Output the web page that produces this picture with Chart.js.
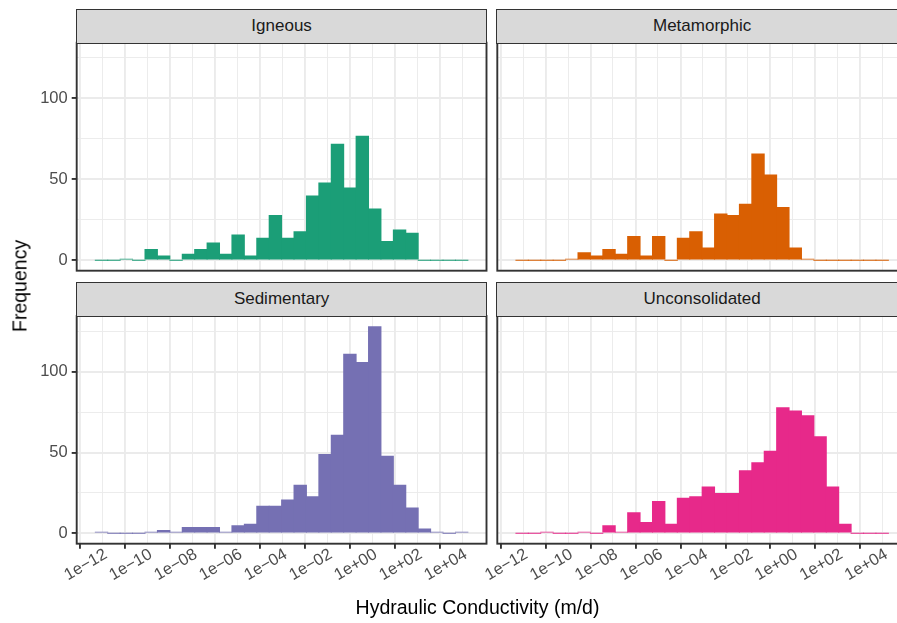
<!DOCTYPE html>
<html>
<head>
<meta charset="utf-8">
<script src="https://cdn.jsdelivr.net/npm/chart.js@4.4.0/dist/chart.umd.min.js"></script>
<style>
  html, body { margin: 0; padding: 0; background: #fff; overflow: hidden; }
  #wrap { position: relative; width: 897px; height: 623px; overflow: hidden; font-family: "Liberation Sans", Arial, sans-serif; }
  #wrap canvas { position: absolute; left: 0; top: 0; }
  .strip { position: absolute; box-sizing: border-box; background: #D9D9D9; border: 1.9px solid #333333;
           color: #1A1A1A; font-size: 17px; text-align: center; }
  .title { position: absolute; color: #000; font-size: 19.5px; white-space: nowrap; }
</style>
</head>
<body>
<div id="wrap">
  <canvas id="c0" width="910" height="623"></canvas>
  <canvas id="c1" width="910" height="623"></canvas>
  <canvas id="c2" width="910" height="623"></canvas>
  <canvas id="c3" width="910" height="623"></canvas>
</div>
<script>
// histogram bins: centre of each bin, log10 of conductivity (m/d)
const binCentres = [-11.04, -10.488, -9.936, -9.384, -8.832, -8.28, -7.728, -7.176, -6.624, -6.072,
                    -5.52, -4.968, -4.416, -3.864, -3.312, -2.76, -2.208, -1.656, -1.104, -0.552,
                    0, 0.552, 1.104, 1.656, 2.208, 2.76, 3.312, 3.864, 4.416, 4.968];

const igneous        = [0, 0, 1, 0, 7, 3, 0, 4, 7, 11, 4, 16, 3, 14, 28, 14, 18, 40, 48, 72, 45, 77, 32, 12, 19, 17, 0, 0, 0, 0];
const metamorphic    = [0, 0, 0, 0, 1, 5, 3, 7, 4, 15, 3, 15, 0, 14, 18, 8, 29, 28, 35, 66, 53, 33, 8, 1, 0, 0, 0, 0, 0, 0];
const sedimentary    = [1, 0, 0, 0, 1, 2, 1, 4, 4, 4, 1, 5, 6, 17, 17, 21, 30, 23, 49, 61, 111, 106, 128, 48, 30, 16, 3, 1, 0, 1];
const unconsolidated = [0, 0, 1, 0, 0, 1, 0, 5, 1, 13, 7, 20, 6, 22, 23, 29, 25, 25, 39, 44, 51, 78, 76, 73, 60, 29, 6, 0, 0, 0];

const facetNames  = ['Igneous', 'Metamorphic', 'Sedimentary', 'Unconsolidated'];
const facetColors = ['#1B9E77', '#D95F02', '#7570B3', '#E7298A'];

const xTicks = [-12, -11, -10, -9, -8, -7, -6, -5, -4, -3, -2, -1, 0, 1, 2, 3, 4, 5];
const yTicks = [0, 25, 50, 75, 100, 125];

const W = 910, H = 623;
const panels = [
  { left: 76.7,  top: 42.7, right: 486.5, bottom: 270.7, yLab: true,  xLab: false },
  { left: 497.3, top: 42.7, right: 907,   bottom: 270.7, yLab: false, xLab: false },
  { left: 76.7,  top: 316,  right: 486.5, bottom: 543.7, yLab: true,  xLab: true },
  { left: 497.3, top: 316,  right: 907,   bottom: 543.7, yLab: false, xLab: true }
];
const allSeries = [igneous, metamorphic, sedimentary, unconsolidated];

function fmtLog(v) {
  return '1e' + (v < 0 ? '\u2212' : '+') + String(Math.abs(v)).padStart(2, '0');
}

const panelBorder = {
  id: 'panelBorder',
  afterDraw(chart) {
    const a = chart.chartArea, ctx = chart.ctx;
    ctx.save();
    ctx.strokeStyle = '#333333';
    ctx.lineWidth = 1.9;
    ctx.strokeRect(a.left, a.top, a.right - a.left, a.bottom - a.top);
    ctx.restore();
  }
};

const wrap = document.getElementById('wrap');

panels.forEach((p, k) => {
  const yW = p.yLab ? p.left : 0;
  const xH = p.xLab ? 60 : 0;

  // strip on top of the panel
  const s = document.createElement('div');
  s.className = 'strip';
  s.style.left = (p.left - 0.95) + 'px';
  s.style.top = (p.top - 34.2) + 'px';
  s.style.width = (p.right - p.left + 1.9) + 'px';
  s.style.height = '35.1px';
  s.style.lineHeight = '31.3px';
  s.textContent = facetNames[k];
  wrap.appendChild(s);

  new Chart(document.getElementById('c' + k), {
    type: 'bar',
    data: {
      datasets: [{
        label: facetNames[k],
        data: binCentres.map((c, i) => ({ x: c, y: allSeries[k][i] })),
        backgroundColor: facetColors[k],
        borderWidth: 0,
        barPercentage: 1.08,
        categoryPercentage: 1,
        minBarLength: 1
      }]
    },
    options: {
      responsive: false,
      animation: false,
      events: [],
      layout: {
        autoPadding: false,
        padding: { left: p.left - yW, top: p.top, right: W - p.right, bottom: H - p.bottom - xH }
      },
      plugins: { legend: { display: false }, tooltip: { enabled: false } },
      scales: {
        x: {
          type: 'linear',
          min: -12.144,
          max: 6.072,
          offset: false,
          border: { display: false },
          afterBuildTicks: sc => { sc.ticks = xTicks.map(v => ({ value: v })); },
          afterFit: sc => { sc.height = xH; },
          grid: {
            offset: false,
            color: '#EBEBEB',
            lineWidth: c => (c.tick && c.tick.value % 2 === 0) ? 1.9 : 0.95,
            drawTicks: p.xLab,
            tickLength: 5,
            tickWidth: 1.9,
            tickColor: c => (c.tick && c.tick.value % 2 === 0) ? '#333333' : 'rgba(0,0,0,0)'
          },
          ticks: {
            display: p.xLab,
            autoSkip: false,
            minRotation: 30,
            maxRotation: 30,
            labelOffset: 26,
            padding: -4,
            color: '#4D4D4D',
            font: { family: '"Liberation Sans", Arial, sans-serif', size: 16.5 },
            callback: v => (v % 2 === 0 ? fmtLog(v) : '')
          }
        },
        y: {
          type: 'linear',
          min: -6.4,
          max: 134.4,
          border: { display: false },
          afterBuildTicks: sc => { sc.ticks = yTicks.map(v => ({ value: v })); },
          afterFit: sc => { sc.width = yW; },
          grid: {
            color: '#EBEBEB',
            lineWidth: c => (c.tick && c.tick.value % 50 === 0) ? 1.9 : 0.95,
            drawTicks: p.yLab,
            tickLength: 5,
            tickWidth: 1.9,
            tickColor: c => (c.tick && c.tick.value % 50 === 0) ? '#333333' : 'rgba(0,0,0,0)'
          },
          ticks: {
            display: p.yLab,
            autoSkip: false,
            padding: 4,
            color: '#4D4D4D',
            font: { family: '"Liberation Sans", Arial, sans-serif', size: 16.5 },
            callback: v => (v % 50 === 0 ? String(v) : '')
          }
        }
      }
    },
    plugins: [panelBorder]
  });
});

// axis titles
const yt = document.createElement('div');
yt.className = 'title';
yt.textContent = 'Frequency';
yt.style.left = '20px';
yt.style.top = '286px';
yt.style.transform = 'translate(-50%, -50%) rotate(-90deg)';
wrap.appendChild(yt);

const xt = document.createElement('div');
xt.className = 'title';
xt.textContent = 'Hydraulic Conductivity (m/d)';
xt.style.left = '477.5px';
xt.style.top = '607px';
xt.style.transform = 'translate(-50%, -50%)';
wrap.appendChild(xt);
</script>
</body>
</html>
